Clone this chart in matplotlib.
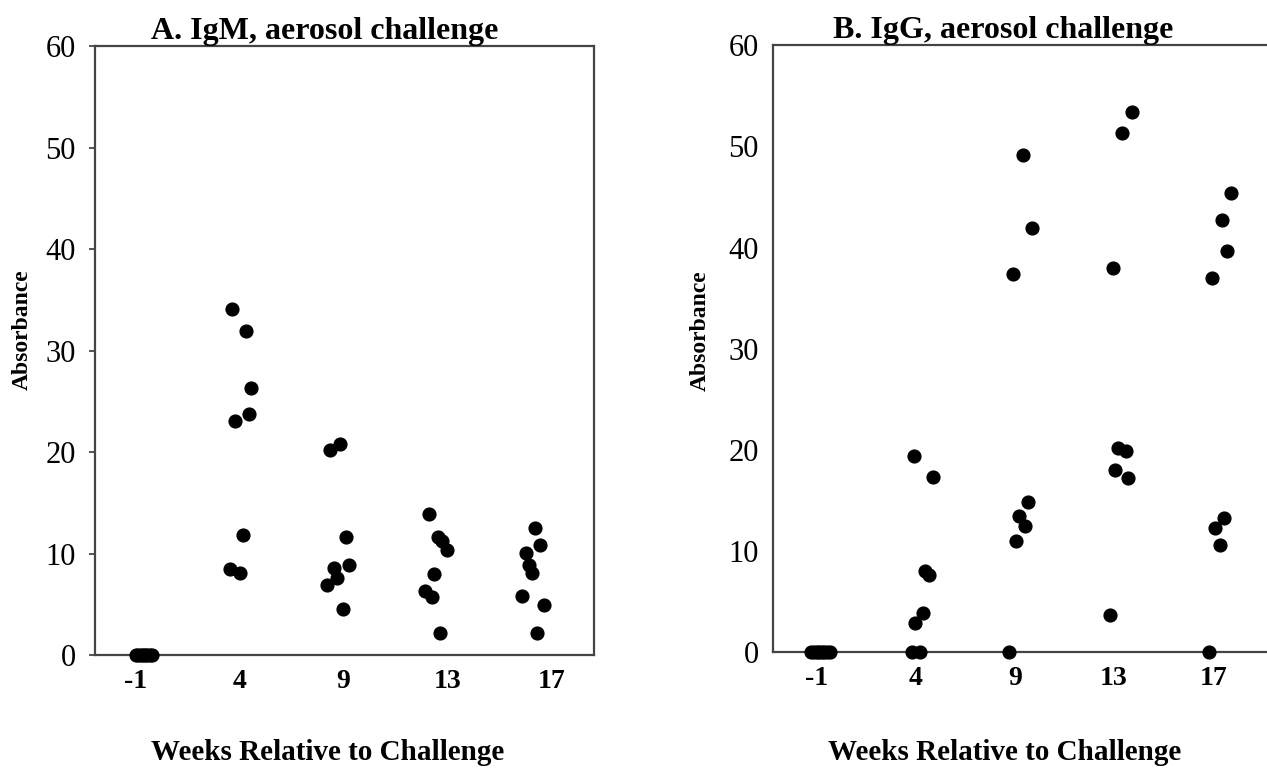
import matplotlib.pyplot as plt

weeks = ["-1", "4", "9", "13", "17"]

# panel A, IgM: values per week and horizontal jitter (in category units)
igm = [
    [0, 0, 0, 0, 0, 0, 0, 0],
    [34.1, 31.9, 26.3, 23.8, 23.1, 11.8, 8.5, 8.1],
    [20.2, 20.8, 11.6, 8.9, 8.6, 7.6, 6.9, 4.5],
    [13.9, 11.6, 11.2, 10.4, 8.0, 6.3, 5.7, 2.2],
    [12.5, 10.8, 10.1, 8.9, 8.1, 5.8, 4.9, 2.2],
]
igm_jit = [
    [0.0, 0.02, 0.05, 0.07, 0.09, 0.11, 0.14, 0.16],
    [-0.07, 0.06, 0.11, 0.09, -0.04, 0.03, -0.09, 0.0],
    [-0.13, -0.03, 0.02, 0.05, -0.09, -0.06, -0.16, -0.01],
    [-0.18, -0.09, -0.05, -0.01, -0.13, -0.22, -0.15, -0.07],
    [-0.16, -0.11, -0.25, -0.22, -0.19, -0.28, -0.07, -0.14],
]

# panel B, IgG
igg = [
    [0, 0, 0, 0, 0, 0, 0, 0],
    [19.4, 17.3, 8.0, 7.6, 3.9, 2.9, 0, 0],
    [49.2, 41.9, 37.4, 14.8, 13.5, 12.5, 11.0, 0],
    [53.4, 51.3, 38.0, 20.2, 19.9, 18.0, 17.2, 3.7],
    [45.4, 42.7, 39.7, 37.0, 13.3, 12.3, 10.6, 0],
]
igg_jit = [
    [-0.06, -0.03, 0.0, 0.03, 0.06, 0.08, 0.11, 0.14],
    [-0.02, 0.17, 0.09, 0.13, 0.07, -0.01, -0.04, 0.04],
    [0.08, 0.17, -0.02, 0.13, 0.04, 0.10, 0.01, -0.06],
    [0.18, 0.08, -0.01, 0.04, 0.12, 0.01, 0.14, -0.04],
    [0.18, 0.09, 0.14, -0.01, 0.11, 0.02, 0.07, -0.04],
]

plt.rcParams['font.family'] = ['Liberation Serif', 'DejaVu Serif']

fig = plt.figure(figsize=(12.67, 7.68), dpi=100)
axA = fig.add_axes([0.075, 0.147, 0.394, 0.793])
axB = fig.add_axes([0.610, 0.151, 0.3946, 0.790])


def draw(ax, vals, jit, title, xlim, box, ylab_y):
    for i in range(len(weeks)):
        xs = [i + j for j in jit[i]]
        ax.plot(xs, vals[i], 'o', color='black', markersize=9.2, clip_on=False, zorder=3)
    ax.set_xlim(*xlim)
    ax.set_ylim(0, 60)
    ax.set_xticks(range(len(weeks)))
    ax.set_xticklabels(weeks, fontsize=20, fontweight='bold')
    ax.set_yticks(range(0, 61, 10))
    ax.tick_params(axis='x', length=0, pad=10)
    ax.tick_params(axis='y', labelsize=22, pad=10, length=4 if box else 0,
                   width=1.3, color='#444444')
    for s in ax.spines.values():
        s.set_color('#444444')
        s.set_linewidth(1.6)
    if not box:
        ax.spines['right'].set_visible(False)
    ax.set_title(title, fontsize=23, fontweight='bold', x=0.46, pad=2)
    ax.set_ylabel("Absorbance", fontsize=17, fontweight='bold')
    ax.yaxis.set_label_coords(-0.124, ylab_y)


draw(axA, igm, igm_jit, "A. IgM, aerosol challenge", (-0.39, 4.41), True, 0.534)
draw(axB, igg, igg_jit, "B. IgG, aerosol challenge", (-0.44, 4.6), False, 0.529)

fig.text(328 / 1267, 1 - 752 / 768, "Weeks Relative to Challenge",
         fontsize=21, fontweight='bold', ha='center', va='center')
fig.text(1005 / 1267, 1 - 752 / 768, "Weeks Relative to Challenge",
         fontsize=21, fontweight='bold', ha='center', va='center')

fig.savefig("out.png", dpi=100)
